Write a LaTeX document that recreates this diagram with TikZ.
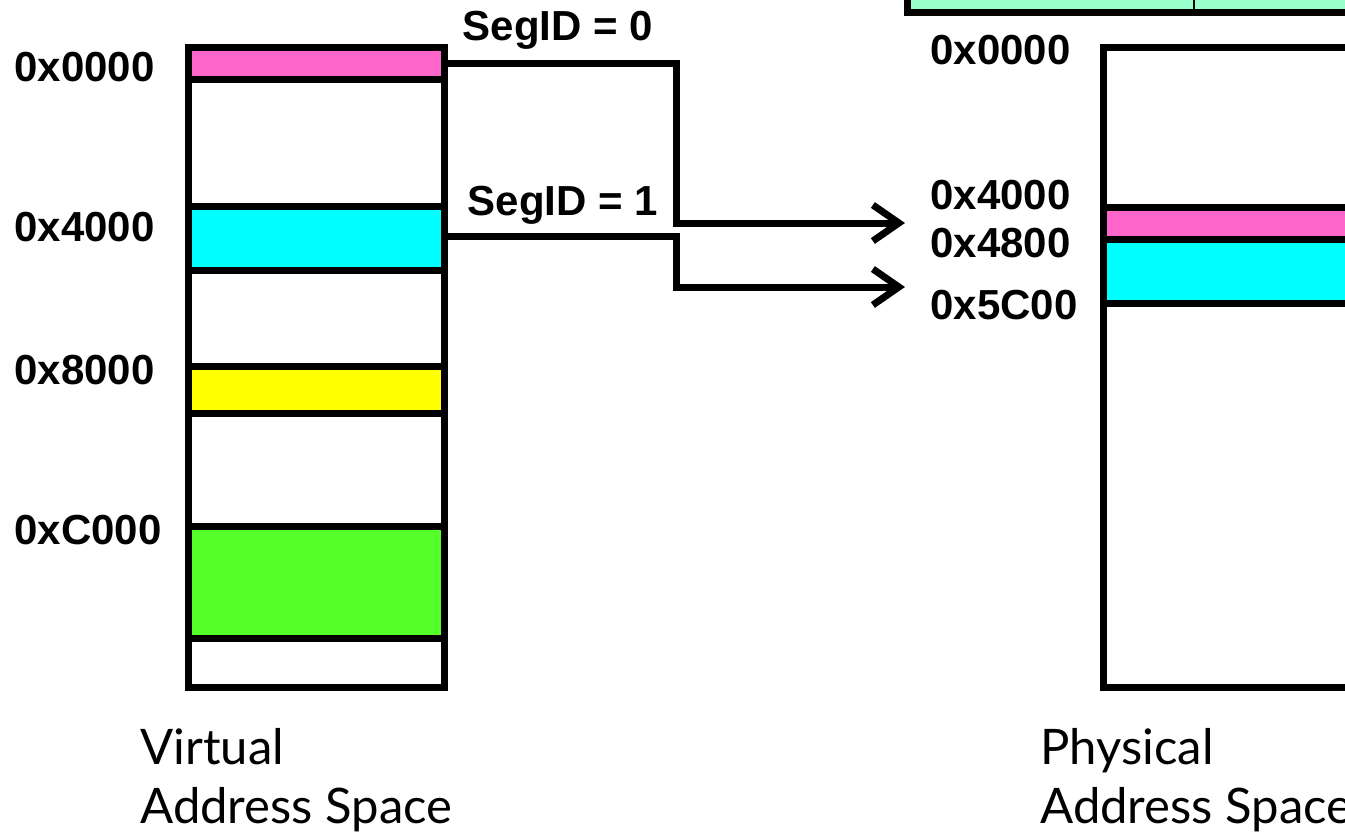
\documentclass[tikz,border=0pt]{standalone}
\usepackage{fontspec}
\setmainfont{Liberation Sans}
\newfontfamily\captionfont{Lato}
\usetikzlibrary{arrows.meta}

\definecolor{segpink}{HTML}{FF66CC}
\definecolor{segcyan}{HTML}{00FFFF}
\definecolor{segyellow}{HTML}{FFFF00}
\definecolor{seggreen}{HTML}{55FF2A}
\definecolor{tablegreen}{HTML}{99FFCC}

\tikzset{
	hexlabel/.style={anchor=west, inner sep=0pt, font=\fontsize{21}{25}\selectfont\bfseries},
	seglabel/.style={inner sep=0pt, font=\fontsize{21}{25}\selectfont\bfseries},
	spacelabel/.style={anchor=north west, inner sep=0pt, align=left, font=\fontsize{24.5}{29.5}\selectfont\captionfont},
	memline/.style={line width=3.5pt},
	conn/.style={line width=3.5pt, -{Straight Barb[length=13pt, width=18pt, line width=3.5pt]}},
}

\begin{document}
\begin{tikzpicture}[x=0.5pt, y=-0.5pt]
		
		\useasboundingbox (0,0) rectangle (1345,837);
		\clip (0,0) rectangle (1345,837);
		
		% table cut at the top
		\filldraw[fill=tablegreen, memline] (907,-30) rectangle (1370,12);
		\draw[line width=0.8pt] (1194,-30) -- (1194,12);
		
		% virtual address space
		\filldraw[fill=segpink, memline] (188.5,47) rectangle (444.5,79);
		\filldraw[fill=segcyan, memline] (188.5,206.5) rectangle (444.5,270.5);
		\filldraw[fill=segyellow, memline] (188.5,366.5) rectangle (444.5,413);
		\filldraw[fill=seggreen, memline] (188.5,526) rectangle (444.5,638);
		\draw[memline] (188.5,47) rectangle (444.5,687);
		
		\node[hexlabel] (v0000) at (14,67) {0x0000};
		\node[hexlabel] (v4000) at (14,227) {0x4000};
		\node[hexlabel] (v8000) at (14,370) {0x8000};
		\node[hexlabel] (vC000) at (14,530) {0xC000};
		
		% physical address space
		\filldraw[fill=segpink, memline] (1103,207) rectangle (1370,239);
		\filldraw[fill=segcyan, memline] (1103,239) rectangle (1370,303);
		\draw[memline] (1370,47) -- (1103,47) -- (1103,687) -- (1370,687);
		
		\node[hexlabel] (p0000) at (930,50) {0x0000};
		\node[hexlabel] (p4000) at (930,195) {0x4000};
		\node[hexlabel] (p4800) at (930,243) {0x4800};
		\node[hexlabel] (p5C00) at (930,305) {0x5C00};
		
		% segment mapping
		\coordinate (seg0out) at (444.5,63);
		\coordinate (seg1out) at (444.5,236);
		\coordinate (seg0in) at (905,223);
		\coordinate (seg1in) at (905,287);
		\draw[conn] (seg0out) -- ++(232,0) |- (seg0in);
		\draw[conn] (seg1out) -- ++(232,0) |- (seg1in);
		\node[seglabel] (seg0) at (558,30) {SegID = 0};
		\node[seglabel] (seg1) at (563,205) {SegID = 1};
		
		\node[spacelabel] (virt) at (140,728) {Virtual\\Address Space};
		\node[spacelabel] (phys) at (1040,728) {Physical\\Address Space};
		
	\end{tikzpicture}
\end{document}
